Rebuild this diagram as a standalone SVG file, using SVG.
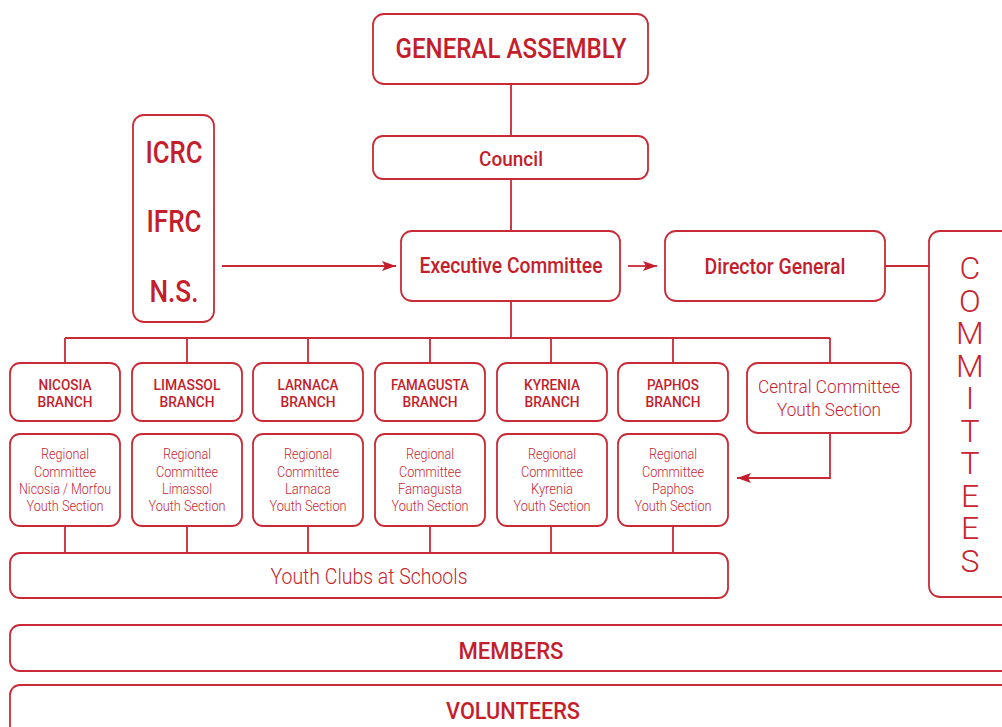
<svg xmlns="http://www.w3.org/2000/svg" width="1002" height="727" viewBox="0 0 1002 727">
<style>
.box{fill:#fff;stroke:#c92a36;stroke-width:1.8}
.ln{fill:none;stroke:#c92a36;stroke-width:1.8}
.h{font-family:Roboto,"Liberation Sans",sans-serif;font-weight:500;fill:#c41e2c;text-anchor:middle}
.l{font-family:Roboto,"Liberation Sans",sans-serif;font-weight:300;fill:#c8242f;text-anchor:middle}
.v{font-family:Roboto,"Liberation Sans",sans-serif;font-weight:300;fill:#c8242f;writing-mode:vertical-rl;text-orientation:upright}
</style>
<defs>
<marker id="ar" viewBox="0 0 14 10" refX="14" refY="5" markerWidth="14" markerHeight="10" markerUnits="userSpaceOnUse" orient="auto">
<path d="M0,0 L14,5 L0,10 L3,5 Z" fill="#c41e2c"/>
</marker>
</defs>
<g id="connectors">
<path class="ln" d="M511,84 V136 M511,179 V231 M511,301 V338 M65,338 H830 M65,338 V363 M187,338 V363 M308,338 V363 M430,338 V363 M551,338 V363 M673,338 V363 M830,338 V363"/>
<path class="ln" d="M65,526 V553 M187,526 V553 M308,526 V553 M430,526 V553 M551,526 V553 M673,526 V553"/>
<path class="ln" d="M885,266 H929"/>
<path class="ln" d="M222,266 H396" marker-end="url(#ar)"/>
<path class="ln" d="M628,266 H657" marker-end="url(#ar)"/>
<path class="ln" d="M830,433 V478 H737" marker-end="url(#ar)"/>
</g>
<g id="general-assembly"><rect class="box" x="373" y="14" width="275" height="70" rx="11"/><text class="h" x="511" y="58" font-size="28" textLength="231" lengthAdjust="spacingAndGlyphs">GENERAL ASSEMBLY</text></g>
<g id="council"><rect class="box" x="373" y="136" width="275" height="43" rx="10"/><text class="h" x="511" y="166" font-size="21" textLength="64" lengthAdjust="spacingAndGlyphs">Council</text></g>
<g id="international"><rect class="box" x="133" y="115" width="81" height="207" rx="11"/>
<text class="h" x="174" y="163" font-size="31" textLength="57" lengthAdjust="spacingAndGlyphs">ICRC</text>
<text class="h" x="174" y="232" font-size="31" textLength="55" lengthAdjust="spacingAndGlyphs">IFRC</text>
<text class="h" x="174" y="302" font-size="31" textLength="49" lengthAdjust="spacingAndGlyphs">N.S.</text></g>
<g id="executive-committee"><rect class="box" x="401" y="231" width="219" height="70" rx="11"/><text class="h" x="511" y="273" font-size="22" textLength="183" lengthAdjust="spacingAndGlyphs">Executive Committee</text></g>
<g id="director-general"><rect class="box" x="665" y="231" width="220" height="70" rx="11"/><text class="h" x="775" y="274" font-size="22" textLength="141" lengthAdjust="spacingAndGlyphs">Director General</text></g>
<g id="committees"><rect class="box" x="929" y="231" width="95" height="366" rx="11"/>
<text class="v" x="970" y="249" font-size="32" letter-spacing="-5.5">COMMITTEES</text></g>
<g id="nicosia-branch"><rect class="box" x="10" y="363" width="110" height="58" rx="10"/><text class="h" x="65" y="390" font-size="15" textLength="53" lengthAdjust="spacingAndGlyphs">NICOSIA</text><text class="h" x="65" y="407" font-size="15" textLength="55" lengthAdjust="spacingAndGlyphs">BRANCH</text></g>
<g id="limassol-branch"><rect class="box" x="132" y="363" width="110" height="58" rx="10"/><text class="h" x="187" y="390" font-size="15" textLength="67" lengthAdjust="spacingAndGlyphs">LIMASSOL</text><text class="h" x="187" y="407" font-size="15" textLength="55" lengthAdjust="spacingAndGlyphs">BRANCH</text></g>
<g id="larnaca-branch"><rect class="box" x="253" y="363" width="110" height="58" rx="10"/><text class="h" x="308" y="390" font-size="15" textLength="61" lengthAdjust="spacingAndGlyphs">LARNACA</text><text class="h" x="308" y="407" font-size="15" textLength="55" lengthAdjust="spacingAndGlyphs">BRANCH</text></g>
<g id="famagusta-branch"><rect class="box" x="375" y="363" width="110" height="58" rx="10"/><text class="h" x="430" y="390" font-size="15" textLength="78" lengthAdjust="spacingAndGlyphs">FAMAGUSTA</text><text class="h" x="430" y="407" font-size="15" textLength="55" lengthAdjust="spacingAndGlyphs">BRANCH</text></g>
<g id="kyrenia-branch"><rect class="box" x="497" y="363" width="110" height="58" rx="10"/><text class="h" x="552" y="390" font-size="15" textLength="56" lengthAdjust="spacingAndGlyphs">KYRENIA</text><text class="h" x="552" y="407" font-size="15" textLength="55" lengthAdjust="spacingAndGlyphs">BRANCH</text></g>
<g id="paphos-branch"><rect class="box" x="618" y="363" width="110" height="58" rx="10"/><text class="h" x="673" y="390" font-size="15" textLength="52" lengthAdjust="spacingAndGlyphs">PAPHOS</text><text class="h" x="673" y="407" font-size="15" textLength="55" lengthAdjust="spacingAndGlyphs">BRANCH</text></g>
<g id="central-committee"><rect class="box" x="747" y="363" width="164" height="70" rx="11"/><text class="l" x="829" y="393" font-size="19" textLength="142" lengthAdjust="spacingAndGlyphs">Central Committee</text><text class="l" x="829" y="416" font-size="19" textLength="104" lengthAdjust="spacingAndGlyphs">Youth Section</text></g>
<g id="regional-nicosia"><rect class="box" x="10" y="434" width="110" height="92" rx="10"/>
<g class="l" font-size="15"><text x="65" y="459" textLength="48" lengthAdjust="spacingAndGlyphs">Regional</text><text x="65" y="477" textLength="62" lengthAdjust="spacingAndGlyphs">Committee</text><text x="65" y="494" textLength="92" lengthAdjust="spacingAndGlyphs">Nicosia / Morfou</text><text x="65" y="511" textLength="77" lengthAdjust="spacingAndGlyphs">Youth Section</text></g></g>
<g id="regional-limassol"><rect class="box" x="132" y="434" width="110" height="92" rx="10"/>
<g class="l" font-size="15"><text x="187" y="459" textLength="48" lengthAdjust="spacingAndGlyphs">Regional</text><text x="187" y="477" textLength="62" lengthAdjust="spacingAndGlyphs">Committee</text><text x="187" y="494" textLength="50" lengthAdjust="spacingAndGlyphs">Limassol</text><text x="187" y="511" textLength="77" lengthAdjust="spacingAndGlyphs">Youth Section</text></g></g>
<g id="regional-larnaca"><rect class="box" x="253" y="434" width="110" height="92" rx="10"/>
<g class="l" font-size="15"><text x="308" y="459" textLength="48" lengthAdjust="spacingAndGlyphs">Regional</text><text x="308" y="477" textLength="62" lengthAdjust="spacingAndGlyphs">Committee</text><text x="308" y="494" textLength="46" lengthAdjust="spacingAndGlyphs">Larnaca</text><text x="308" y="511" textLength="77" lengthAdjust="spacingAndGlyphs">Youth Section</text></g></g>
<g id="regional-famagusta"><rect class="box" x="375" y="434" width="110" height="92" rx="10"/>
<g class="l" font-size="15"><text x="430" y="459" textLength="48" lengthAdjust="spacingAndGlyphs">Regional</text><text x="430" y="477" textLength="62" lengthAdjust="spacingAndGlyphs">Committee</text><text x="430" y="494" textLength="64" lengthAdjust="spacingAndGlyphs">Famagusta</text><text x="430" y="511" textLength="77" lengthAdjust="spacingAndGlyphs">Youth Section</text></g></g>
<g id="regional-kyrenia"><rect class="box" x="497" y="434" width="110" height="92" rx="10"/>
<g class="l" font-size="15"><text x="552" y="459" textLength="48" lengthAdjust="spacingAndGlyphs">Regional</text><text x="552" y="477" textLength="62" lengthAdjust="spacingAndGlyphs">Committee</text><text x="552" y="494" textLength="42" lengthAdjust="spacingAndGlyphs">Kyrenia</text><text x="552" y="511" textLength="77" lengthAdjust="spacingAndGlyphs">Youth Section</text></g></g>
<g id="regional-paphos"><rect class="box" x="618" y="434" width="110" height="92" rx="10"/>
<g class="l" font-size="15"><text x="673" y="459" textLength="48" lengthAdjust="spacingAndGlyphs">Regional</text><text x="673" y="477" textLength="62" lengthAdjust="spacingAndGlyphs">Committee</text><text x="673" y="494" textLength="42" lengthAdjust="spacingAndGlyphs">Paphos</text><text x="673" y="511" textLength="77" lengthAdjust="spacingAndGlyphs">Youth Section</text></g></g>
<g id="youth-clubs"><rect class="box" x="10" y="553" width="718" height="45" rx="10"/><text class="l" x="369" y="584" font-size="22" textLength="197" lengthAdjust="spacingAndGlyphs">Youth Clubs at Schools</text></g>
<g id="members"><rect class="box" x="10" y="625" width="1020" height="46" rx="10"/><text class="h" x="511" y="659" font-size="24" textLength="105" lengthAdjust="spacingAndGlyphs">MEMBERS</text></g>
<g id="volunteers"><rect class="box" x="10" y="685" width="1020" height="60" rx="10"/><text class="h" x="513" y="719" font-size="24" textLength="134" lengthAdjust="spacingAndGlyphs">VOLUNTEERS</text></g>
</svg>
